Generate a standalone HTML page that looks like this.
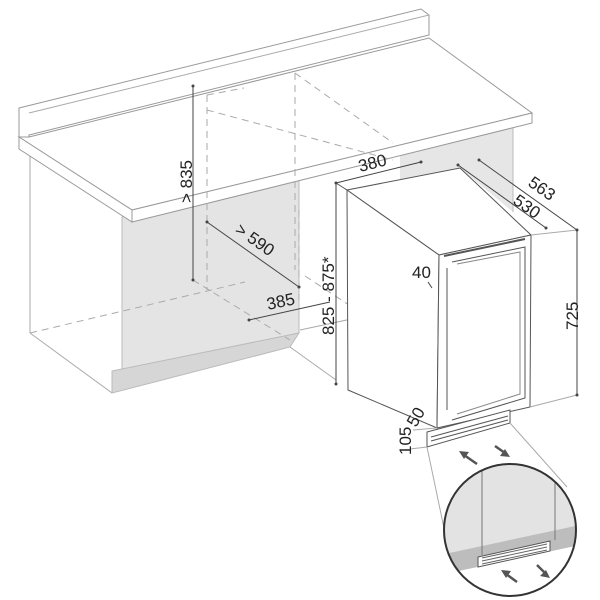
<!DOCTYPE html>
<html><head><meta charset="utf-8"><style>
html,body{margin:0;padding:0;background:#fff;}
svg{display:block}
text{font-family:"Liberation Sans",sans-serif;font-size:17px;fill:#222}
</style></head><body>
<svg width="600" height="600" viewBox="0 0 600 600">
<g fill="none" stroke="#aaa" stroke-width="1">
<!-- cabinet left side -->
<line x1="30" y1="145" x2="30" y2="333"/>
<line x1="30" y1="333" x2="112" y2="393"/>
<line x1="112" y1="393" x2="112" y2="371"/>
</g>
<!-- gray front panel -->
<polygon points="122,217 299,170 299,333 122,375" fill="#e4e4e4" stroke="#bbb"/>
<polygon points="112,371 299,333 290,347 112,393" fill="#d6d6d6" stroke="#bbb"/>
<!-- right gray region behind fridge -->
<polygon points="400,150 513,122 513,212 460,168 400,183" fill="#e6e6e6" stroke="none"/>
<line x1="513" y1="122" x2="513" y2="212" stroke="#bbb"/>
<!-- countertop -->
<g fill="#fff" stroke="#999" stroke-width="1">
<polygon points="19,108 421,9 429,15 429,35 29,135 29,137 19,137"/>
<polygon points="19,137 29,137 429,38 532,113 132,210"/>
<polygon points="132,210 532,113 532,123 132,222"/>
<polygon points="19,137 132,210 132,222 19,149"/>
</g>
<line x1="29" y1="113" x2="429" y2="15" stroke="#aaa"/>
<!-- dashed hidden lines -->
<g stroke="#aaa" stroke-dasharray="7,5" fill="none">
<line x1="207" y1="95" x2="207" y2="290"/>
<line x1="295" y1="73" x2="295" y2="270"/>
<line x1="207" y1="95" x2="244" y2="88"/>
<line x1="207" y1="110" x2="393" y2="160"/>
<line x1="295" y1="73" x2="393" y2="143"/>
<line x1="30" y1="333" x2="245" y2="282"/>
<line x1="193" y1="280" x2="290" y2="340"/>
<line x1="299" y1="210" x2="299" y2="300"/>
<line x1="305" y1="276" x2="390" y2="332"/>
<line x1="390" y1="310" x2="520" y2="280"/>
<line x1="385" y1="340" x2="520" y2="305"/>
</g>
<g stroke="#aaa" fill="none">
<line x1="380" y1="305" x2="380" y2="330"/>
<line x1="290" y1="347" x2="336" y2="380"/>
<line x1="300" y1="330" x2="440" y2="300"/>
<line x1="395" y1="300" x2="395" y2="345"/>
</g>
<!-- fridge -->
<g fill="#fff" stroke="#555" stroke-width="1">
<polygon points="347,190 460,168 531,235 439,255"/>
<polygon points="347,190 439,255 437,428 348,390"/>
<polygon points="439,255 531,235 530,407 437,428"/>
</g>
<g stroke="#555" fill="none">
<line x1="336" y1="183" x2="347" y2="190"/>
<line x1="444" y1="256" x2="525" y2="239" stroke-width="2"/>
<polyline points="452,262 525,247 525,398 452,420 Z"/>
<polyline points="457,264 520,252 520,394 457,414 Z" stroke="#888"/>
<line x1="447" y1="268" x2="447" y2="410"/>
<polygon points="427,432 510,410 510,423 427,447" fill="#fff"/>
<line x1="431" y1="437" x2="508" y2="416"/>
<line x1="431" y1="441" x2="508" y2="420"/>
</g>
<!-- dimension lines -->
<g stroke="#444" stroke-width="1" fill="none">
<line x1="193" y1="86" x2="193" y2="280"/>
<line x1="207" y1="222" x2="299" y2="287"/>
<line x1="249" y1="320" x2="330" y2="302"/>
<line x1="336" y1="183" x2="421" y2="162"/>
<line x1="336" y1="183" x2="336" y2="384"/>
<line x1="479" y1="160" x2="577" y2="230"/>
<line x1="458" y1="165" x2="546" y2="228"/>
<line x1="577" y1="230" x2="577" y2="395"/>
<line x1="428" y1="282" x2="432" y2="288"/>
</g>
<g stroke="#aaa" fill="none">
<line x1="531" y1="235" x2="577" y2="230"/>
<line x1="530" y1="407" x2="577" y2="395"/>
<line x1="437" y1="428" x2="413" y2="430"/>
<line x1="427" y1="447" x2="410" y2="449"/>
<line x1="427" y1="447" x2="445" y2="533"/>
<line x1="510" y1="423" x2="567" y2="487"/>
</g>
<g fill="#444">
<circle cx="193" cy="86" r="1.5"/><circle cx="193" cy="280" r="1.5"/>
<circle cx="207" cy="222" r="1.5"/><circle cx="299" cy="287" r="1.5"/>
<circle cx="249" cy="320" r="1.5"/><circle cx="336" cy="384" r="1.5"/>
<circle cx="336" cy="183" r="1.5"/><circle cx="421" cy="162" r="1.5"/>
<circle cx="479" cy="160" r="1.5"/><circle cx="577" cy="230" r="1.5"/>
<circle cx="458" cy="165" r="1.5"/><circle cx="546" cy="228" r="1.5"/>
<circle cx="577" cy="395" r="1.5"/>
</g>
<!-- labels -->
<text transform="translate(192,203) rotate(-90)">&gt; 835</text>
<text transform="translate(234,232) rotate(35)">&gt; 590</text>
<text transform="translate(268,310) rotate(-12)">385</text>
<text transform="translate(334,335) rotate(-90)">825 - 875*</text>
<text transform="translate(360,172) rotate(-14)">380</text>
<text transform="translate(527,185) rotate(35)">563</text>
<text transform="translate(512,203) rotate(35)">530</text>
<text transform="translate(578,330) rotate(-90)">725</text>
<text x="412" y="278">40</text>
<text transform="translate(416,428) rotate(-60)">50</text>
<text transform="translate(411,455) rotate(-90)">105</text>
<!-- arrows -->
<g stroke="#555" stroke-width="2.5" fill="#555">
<line x1="477" y1="464" x2="464" y2="455"/>
<polygon points="459,451 469,452 464,459" stroke="none"/>
<line x1="495" y1="446" x2="505" y2="453"/>
<polygon points="510,457 500,456 505,449" stroke="none"/>
</g>
<!-- magnifier -->
<defs><clipPath id="c"><circle cx="510" cy="530" r="66"/></clipPath></defs>
<g clip-path="url(#c)">
<rect x="440" y="460" width="140" height="140" fill="#fff"/>
<polygon points="440,460 580,460 580,528 440,560" fill="#e3e3e3"/>
<polygon points="440,555 580,525 580,545 440,575" fill="#bdbdbd"/>
<line x1="482" y1="470" x2="482" y2="555" stroke="#777"/>
<line x1="555" y1="480" x2="555" y2="540" stroke="#777"/>
<polygon points="478,557 550,541 550,551 478,567" fill="#fff" stroke="#555"/>
<g stroke="#666"><line x1="482" y1="558" x2="547" y2="544"/><line x1="482" y1="561" x2="547" y2="547"/><line x1="482" y1="564" x2="547" y2="550"/></g>
<g stroke="#555" stroke-width="2.5" fill="#555">
<line x1="517" y1="582" x2="506" y2="574"/>
<polygon points="501,570 511,571 506,578" stroke="none"/>
<line x1="537" y1="565" x2="546" y2="574"/>
<polygon points="550,578 540,576 546,570" stroke="none"/>
</g>
</g>
<circle cx="510" cy="530" r="66" fill="none" stroke="#333" stroke-width="2"/>
</svg>
</body></html>
